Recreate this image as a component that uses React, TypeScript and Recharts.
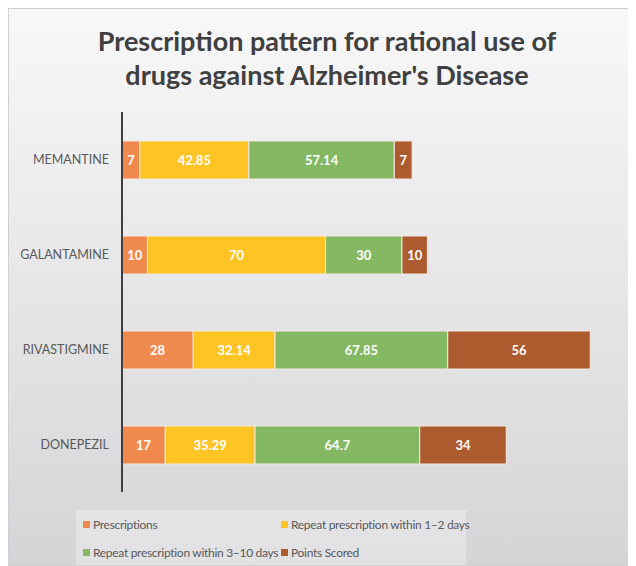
import React from 'react';
import { BarChart, Bar, XAxis, YAxis, LabelList } from 'recharts';

const categories = ['MEMANTINE', 'GALANTAMINE', 'RIVASTIGMINE', 'DONEPEZIL'];
const prescriptions = [7, 10, 28, 17];
const repeat12 = [42.85, 70, 32.14, 35.29];
const repeat310 = [57.14, 30, 67.85, 64.7];
const pointsScored = [7, 10, 56, 34];

const seriesNames = [
  'Prescriptions',
  'Repeat prescription within 1–2 days',
  'Repeat prescription within 3–10 days',
  'Points Scored',
];
const colors = ['#f0894e', '#fec424', '#84b862', '#ab5b2d'];

const data = categories.map((name, i) => ({
  name,
  s0: prescriptions[i],
  s1: repeat12[i],
  s2: repeat310[i],
  s3: pointsScored[i],
}));

const FONT = 'Lato, "Open Sans", sans-serif';

const LegendBox = () => {
  const item = (idx: number) => (
    <div style={{ display: 'flex', alignItems: 'center', height: 28, whiteSpace: 'nowrap' }}>
      <span
        style={{
          width: 7,
          height: 7,
          flexShrink: 0,
          background: colors[idx],
          marginRight: 3,
          display: 'inline-block',
        }}
      />
      <span>{seriesNames[idx]}</span>
    </div>
  );
  return (
    <div
      style={{
        position: 'absolute',
        left: 67,
        top: 501,
        width: 390,
        height: 55,
        display: 'grid',
        gridTemplateColumns: '198px 185px',
        paddingLeft: 7,
        background: 'rgba(255,255,255,0.3)',
        fontSize: 12,
        letterSpacing: -0.3,
        color: '#595959',
        fontFamily: FONT,
        boxSizing: 'border-box',
      }}
    >
      {item(0)}
      {item(1)}
      {item(2)}
      {item(3)}
    </div>
  );
};

const App: React.FC = () => {
  return (
    <div
      style={{
        position: 'relative',
        width: 628,
        height: 558,
        background: 'linear-gradient(to bottom, #f8f8f9, #d5d4d6)',
        border: '1px solid #d0d0d0',
        boxSizing: 'border-box',
        fontFamily: FONT,
      }}
    >
      <div
        style={{
          position: 'absolute',
          top: 15,
          left: 0,
          width: 636,
          textAlign: 'center',
          fontSize: 27,
          fontWeight: 700,
          lineHeight: '34px',
          color: '#404040',
        }}
      >
        Prescription pattern for rational use of
        <br />
        drugs against Alzheimer's Disease
      </div>
      <BarChart
        width={628}
        height={558}
        data={data}
        layout="vertical"
        margin={{ top: 104, right: 5, left: 0, bottom: 74 }}
        style={{ position: 'absolute', top: -1, left: -1 }}
      >
        <XAxis type="number" domain={[0, 200]} hide />
        <YAxis
          type="category"
          dataKey="name"
          width={114}
          axisLine={{ stroke: '#404040', strokeWidth: 2 }}
          tickLine={false}
          tickSize={0}
          tickMargin={13}
          tick={{ fill: '#595959', fontSize: 12.5, fontFamily: FONT }}
        />
        {['s0', 's1', 's2', 's3'].map((key, i) => (
          <Bar
            key={key}
            dataKey={key}
            name={seriesNames[i]}
            stackId="a"
            fill={colors[i]}
            stroke="#f3e9e2"
            strokeWidth={1}
            barSize={38}
            isAnimationActive={false}
          >
            <LabelList
              dataKey={key}
              position="center"
              fill="#ffffff"
              fontSize={13}
              fontWeight={700}
              fontFamily={FONT}
            />
          </Bar>
        ))}
      </BarChart>
      <LegendBox />
    </div>
  );
};

export default App;
